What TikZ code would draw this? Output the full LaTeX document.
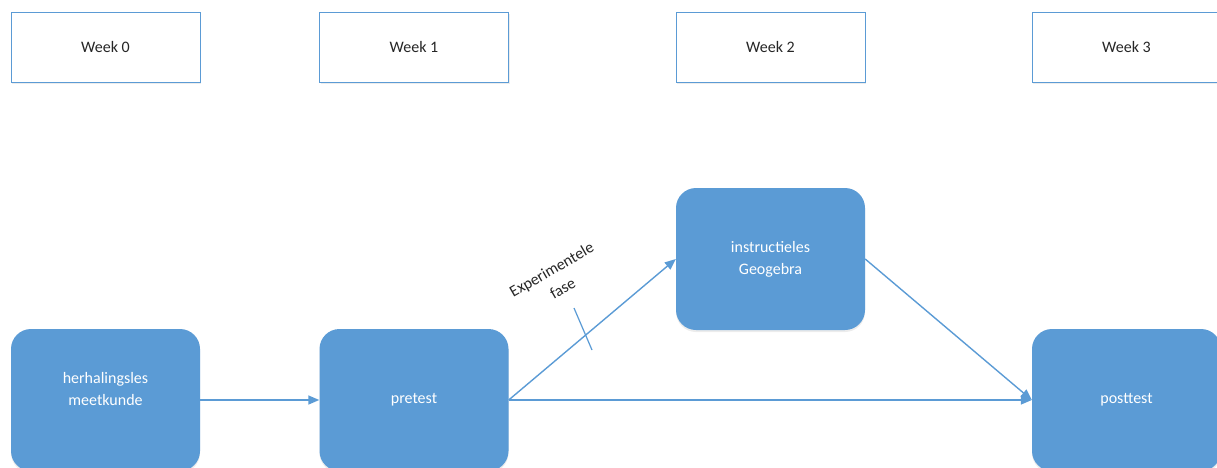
\documentclass[tikz,border=0pt]{standalone}
\usepackage{fontspec}
\setmainfont{Carlito}
\usetikzlibrary{arrows.meta,shadows}
\definecolor{accent}{HTML}{5B9BD5}
\definecolor{txt}{HTML}{262626}
\tikzset{
  weekbox/.style={draw=accent, line width=0.9pt, fill=white, minimum width=189pt, minimum height=70pt, inner sep=0pt,
     text=txt, font=\fontsize{16}{18}\selectfont, drop shadow={shadow xshift=1pt, shadow yshift=-2pt, opacity=0.15}},
  bluebox/.style={fill=accent, rounded corners=20pt, minimum width=189pt, minimum height=142pt, inner sep=0pt,
     drop shadow={shadow xshift=0pt, shadow yshift=-2pt, opacity=0.15}},
  boxtext/.style={text=white, font=\fontsize{16}{22}\selectfont, align=center, inner sep=0pt},
  conn/.style={draw=accent, line width=1.4pt, -{Triangle[length=11pt,width=9pt]}},
}
\begin{document}
\begin{tikzpicture}[x=1pt,y=-1pt]
\useasboundingbox (0,0) rectangle (1217,468);
\clip (0,0) rectangle (1217,468);
% week boxes
\node[weekbox] (w0) at (105.5,47) {Week 0};
\node[weekbox] (w1) at (414,47) {Week 1};
\node[weekbox] (w2) at (770.5,47) {Week 2};
\node[weekbox] (w3) at (1126.5,47) {Week 3};
% process boxes
\node[bluebox] (herh) at (105.5,400) {};
\node[boxtext] (herht) at (105.5,389) {herhalingsles\\meetkunde};
\node[bluebox] (pre) at (414,400) {};
\node[boxtext] (pret) at (414,400) {pretest};
\node[bluebox] (instr) at (770.5,259) {};
\node[boxtext] (instrt) at (770.5,259) {instructieles\\Geogebra};
\node[bluebox] (post) at (1126.5,400) {};
\node[boxtext] (postt) at (1126.5,400) {posttest};
% connectors
\draw[conn] (herh.east) -- (pre.west);
\draw[conn] (pre.east) -- (post.west);
\draw[conn] (pre.east) -- (instr.west);
\draw[conn] (instr.east) -- (post.west);
% label and tick
\node[rotate=30, align=center, text=txt, font=\fontsize{16}{22}\selectfont, inner sep=0pt] (lab) at (557,279) {Experimentele\\fase};
\coordinate (t1) at (574,308);
\coordinate (t2) at (592,350);
\draw[accent, line width=1.2pt] (t1) -- (t2);
\end{tikzpicture}
\end{document}
